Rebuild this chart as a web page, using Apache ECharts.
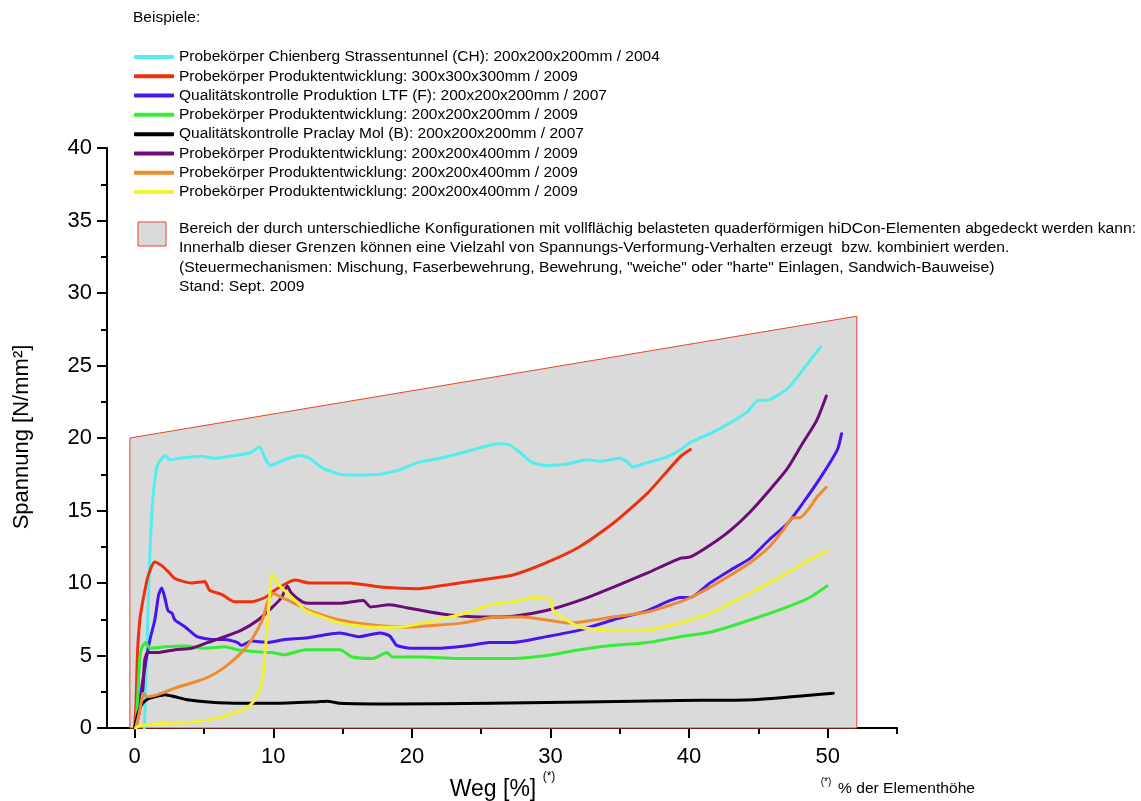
<!DOCTYPE html>
<html>
<head>
<meta charset="utf-8">
<script src="https://cdn.jsdelivr.net/npm/echarts@6/dist/echarts.min.js"></script>
<style>
  html, body { margin: 0; padding: 0; background: #fff; }
  #chart { width: 1141px; height: 801px; }
</style>
</head>
<body>
<div id="chart"></div>
<script>
// ---- series labels and colours ----
const seriesLabels = [
  'Probekörper Chienberg Strassentunnel (CH): 200x200x200mm / 2004',
  'Probekörper Produktentwicklung: 300x300x300mm / 2009',
  'Qualitätskontrolle Produktion LTF (F): 200x200x200mm / 2007',
  'Probekörper Produktentwicklung: 200x200x200mm / 2009',
  'Qualitätskontrolle Praclay Mol (B): 200x200x200mm / 2007',
  'Probekörper Produktentwicklung: 200x200x400mm / 2009',
  'Probekörper Produktentwicklung: 200x200x400mm / 2009',
  'Probekörper Produktentwicklung: 200x200x400mm / 2009'
];
const seriesColors = ['#52eeee', '#ef300e', '#4814f0', '#36ec36', '#000000', '#6c0c76', '#ef8a2e', '#f2f232'];

// ---- stress–strain curves: [Weg %, Spannung N/mm²] ----
const chienberg = [
  [0.7,0],[0.94,7.4],[1.08,11.6],[1.3,15.7],[1.6,18.0],[1.95,18.6],[2.2,18.8],[2.5,18.5],[3.2,18.6],
  [4.7,18.75],[5.8,18.6],[6.9,18.75],[8.4,19.0],[9.0,19.4],[9.4,18.6],[9.8,18.1],[10.8,18.5],[11.9,18.8],
  [12.6,18.6],[13.6,17.9],[14.8,17.5],[16.0,17.45],[17.7,17.5],[19.1,17.8],[20.4,18.3],[22.0,18.6],
  [23.7,19.0],[25.6,19.5],[26.4,19.6],[27.1,19.5],[27.8,19.0],[28.7,18.3],[29.7,18.1],[31.2,18.2],
  [32.6,18.5],[33.6,18.4],[35.0,18.6],[35.6,18.3],[35.9,18.0],[37.0,18.3],[38.4,18.7],[39.4,19.2],
  [40.1,19.7],[41.5,20.3],[42.7,20.9],[44.2,21.8],[45.0,22.6],[45.6,22.6],[47.1,23.4],[48.2,24.7],[49.5,26.3]
];
const dev300 = [
  [0,0],[0.1,1.9],[0.2,5.2],[0.36,7.4],[0.5,8.3],[0.94,10.4],[1.44,11.45],[1.95,11.2],[2.4,10.8],
  [2.9,10.3],[4.1,10.0],[5.05,10.1],[5.4,9.5],[6.3,9.2],[7.2,8.7],[8.4,8.7],[9.4,9.0],[10.1,9.5],
  [11.0,10.0],[11.55,10.2],[12.6,10.0],[15.5,10.0],[17.9,9.7],[20.4,9.6],[22.7,9.9],[25.6,10.3],
  [27.3,10.55],[29.7,11.4],[32.1,12.5],[34.5,14.1],[37.0,16.2],[39.35,18.7],[40.1,19.2]
];
const ltf = [
  [0.07,0],[0.36,1.9],[0.7,4.0],[1.1,6.1],[1.45,7.45],[1.73,9.2],[1.95,9.65],[2.17,9.0],[2.4,8.1],
  [2.7,7.9],[2.9,7.45],[3.6,7.0],[4.5,6.3],[5.6,6.1],[6.5,6.1],[7.4,5.9],[7.7,5.7],[8.45,6.0],
  [9.6,5.9],[10.8,6.1],[12.3,6.2],[14.8,6.55],[16.2,6.3],[17.7,6.55],[18.4,6.35],[18.9,5.7],
  [19.9,5.5],[22.0,5.5],[24.2,5.7],[25.6,5.9],[27.3,5.9],[29.7,6.3],[32.1,6.75],[34.5,7.45],
  [37.0,8.1],[39.35,9.0],[40.1,9.0],[41.5,10.0],[43.0,10.9],[44.4,11.7],[45.8,13.0],[47.1,14.1],
  [48.2,15.5],[49.5,17.3],[50.7,19.2],[51.0,20.3]
];
const dev200 = [
  [0.07,0],[0.2,1.9],[0.36,4.7],[0.5,5.5],[0.8,5.9],[1.1,5.5],[2.2,5.6],[3.6,5.65],[5.05,5.5],
  [6.5,5.6],[7.4,5.4],[8.9,5.25],[9.9,5.2],[10.8,5.05],[12.3,5.4],[14.8,5.4],[15.7,4.9],[17.2,4.8],
  [18.2,5.2],[18.6,4.9],[20.8,4.9],[23.2,4.8],[25.6,4.8],[27.3,4.8],[29.7,5.0],[32.1,5.4],[34.5,5.7],
  [37.0,5.9],[39.35,6.3],[41.5,6.6],[44.4,7.45],[47.1,8.35],[48.7,9.0],[49.95,9.8]
];
const praclay = [
  [0,0],[0.2,0.9],[0.5,1.6],[0.94,2.0],[1.45,2.15],[2.2,2.3],[2.9,2.15],[3.8,1.95],[5.3,1.8],
  [7.7,1.7],[10.1,1.7],[13.1,1.8],[13.9,1.85],[14.8,1.7],[18.4,1.65],[25.6,1.7],[39.35,1.9],
  [44.6,1.95],[50.4,2.4]
];
const dev400a = [
  [0.07,0],[0.36,1.2],[0.6,2.8],[0.72,4.7],[0.94,5.2],[1.66,5.2],[2.9,5.4],[4.1,5.5],[5.3,5.9],
  [6.5,6.3],[7.7,6.75],[8.9,7.45],[9.9,8.3],[10.6,9.0],[11.0,9.8],[11.3,9.3],[12.1,8.7],[12.6,8.6],
  [14.8,8.6],[16.5,8.8],[17.0,8.35],[18.4,8.5],[19.6,8.3],[21.3,8.0],[22.7,7.8],[25.6,7.65],
  [27.3,7.7],[29.7,8.1],[32.1,8.8],[34.5,9.7],[37.0,10.7],[39.35,11.7],[40.1,11.8],[41.5,12.6],
  [43.0,13.65],[44.4,14.9],[45.8,16.4],[47.1,17.9],[48.2,19.65],[49.2,21.2],[49.9,22.9]
];
const dev400b = [
  [0.07,0],[0.3,0.9],[0.5,1.9],[0.6,2.4],[0.87,2.15],[1.66,2.3],[2.9,2.75],[4.1,3.1],[5.3,3.5],
  [6.5,4.2],[7.7,5.2],[8.45,6.1],[9.2,7.45],[9.6,8.7],[10.0,9.3],[10.6,9.0],[11.3,8.7],[12.6,8.1],
  [14.8,7.45],[17.2,7.1],[19.6,6.95],[22.0,7.1],[23.7,7.25],[25.6,7.6],[26.4,7.65],[28.0,7.65],
  [29.7,7.45],[31.2,7.25],[32.1,7.3],[34.5,7.65],[37.0,8.0],[39.35,8.7],[40.1,9.0],[41.5,9.7],
  [43.0,10.55],[44.4,11.4],[45.8,12.5],[46.8,13.65],[47.5,14.5],[48.0,14.5],[48.7,15.2],[49.2,15.9],[49.9,16.6]
];
const dev400c = [
  [0.07,0],[0.36,0.15],[1.66,0.3],[4.1,0.4],[6.0,0.7],[7.2,1.05],[8.2,1.45],[8.8,2.15],[9.2,3.3],
  [9.4,5.2],[9.6,7.45],[9.75,9.3],[9.9,10.6],[10.3,10.0],[11.0,9.3],[11.8,8.6],[12.3,8.1],[13.1,7.8],
  [14.8,7.25],[17.2,6.95],[19.1,6.95],[20.8,7.25],[22.5,7.6],[24.2,8.0],[25.6,8.5],[26.4,8.6],
  [27.8,8.8],[28.7,9.0],[29.7,8.95],[30.0,8.95],[30.2,8.1],[31.2,7.45],[32.1,6.95],[34.5,6.75],
  [37.0,6.75],[39.35,7.25],[41.5,7.9],[44.4,9.3],[47.1,10.7],[48.7,11.6],[49.95,12.2]
];
const curves = [chienberg, dev300, ltf, dev200, praclay, dev400a, dev400b, dev400c];

// ---- envelope of achievable configurations ----
const regionX = [-0.35, -0.35, 52.1, 52.1];
const regionY = [0, 20, 28.4, 0];

// ---- axes ----
const xMin = -2, xMax = 55;
const xMajorTicks = [0, 10, 20, 30, 40, 50];
const xMinorTicks = [5, 15, 25, 35, 45, 55];
const yMin = 0, yMax = 40, yStep = 5;

const noteLines = [
  'Bereich der durch unterschiedliche Konfigurationen mit vollflächig belasteten quaderförmigen hiDCon-Elementen abgedeckt werden kann:',
  'Innerhalb dieser Grenzen können eine Vielzahl von Spannungs-Verformung-Verhalten erzeugt  bzw. kombiniert werden.',
  '(Steuermechanismen: Mischung, Faserbewehrung, Bewehrung, "weiche" oder "harte" Einlagen, Sandwich-Bauweise)',
  'Stand: Sept. 2009'
];

const FONT = '"Liberation Sans", Arial, Helvetica, sans-serif';
const chart = echarts.init(document.getElementById('chart'), null, { renderer: 'canvas' });

// the note block uses a condensed setting: squeeze it to the block width
const measureCtx = document.createElement('canvas').getContext('2d');
function textWidth(str, size) {
  measureCtx.font = size + 'px ' + FONT;
  return measureCtx.measureText(str).width;
}
const noteSize = 15.5;
const noteScale = 957 / textWidth(noteLines[0], noteSize);

const seriesIds = curves.map((_, i) => 'curve' + i);

const graphics = [
  { type: 'text', x: 133, y: 18, style: { text: 'Beispiele:', font: '15.5px ' + FONT, fill: '#000', verticalAlign: 'middle' } },
  { type: 'rect', shape: { x: 138, y: 222, width: 28, height: 24 },
    style: { fill: '#dadada', stroke: '#e8442c', lineWidth: 1 } },
  // axis titles
  { type: 'text', x: 22, y: 437, rotation: Math.PI / 2,
    style: { text: 'Spannung [N/mm²]', font: '22px ' + FONT, fill: '#000', align: 'center', verticalAlign: 'middle' } },
  { type: 'text', x: 493, y: 790,
    style: { text: 'Weg [%]', font: '23px ' + FONT, fill: '#000', align: 'center', verticalAlign: 'middle' } },
  { type: 'text', x: 549, y: 777,
    style: { text: '(*)', font: '12px ' + FONT, fill: '#000', align: 'center', verticalAlign: 'middle' } },
  { type: 'text', x: 826, y: 782,
    style: { text: '(*)', font: '10px ' + FONT, fill: '#000', align: 'center', verticalAlign: 'middle' } },
  { type: 'text', x: 838, y: 789, scaleX: 137 / textWidth('% der Elementhöhe', 15),
    style: { text: '% der Elementhöhe', font: '15px ' + FONT, fill: '#000', align: 'left', verticalAlign: 'middle' } }
];
const noteY = [229, 248, 268, 287];
noteLines.forEach((line, i) => {
  graphics.push({ type: 'text', x: 179, y: noteY[i], scaleX: noteScale,
    style: { text: line, font: noteSize + 'px ' + FONT, fill: '#000', align: 'left', verticalAlign: 'middle' } });
});

const lineSeries = curves.map((pts, i) => ({
  id: seriesIds[i],
  name: seriesIds[i],
  type: 'line',
  data: pts,
  showSymbol: false,
  symbol: 'none',
  smooth: 0.2,
  color: seriesColors[i],
  lineStyle: { width: 3, color: seriesColors[i], cap: 'round', join: 'round' },
  z: 3,
  silent: true
}));

const option = {
  animation: false,
  backgroundColor: '#ffffff',
  textStyle: { fontFamily: FONT },
  grid: { left: 107, right: 244, top: 148, bottom: 73, containLabel: false },
  legend: {
    data: seriesIds,
    formatter: name => seriesLabels[seriesIds.indexOf(name)],
    orient: 'vertical',
    left: 134,
    top: 47.3,
    padding: 0,
    itemGap: 0,
    itemWidth: 40,
    itemHeight: 4,
    icon: 'roundRect',
    selectedMode: false,
    textStyle: { fontSize: 15.5, color: '#000', fontFamily: FONT, lineHeight: 19.3 }
  },
  xAxis: [
    {
      type: 'value', min: xMin, max: xMax, position: 'bottom',
      axisLine: { show: true, onZero: false, lineStyle: { color: '#000', width: 2 } },
      axisTick: { show: true, customValues: xMajorTicks, length: 10, lineStyle: { color: '#000', width: 2 } },
      axisLabel: { show: true, customValues: xMajorTicks, fontSize: 22, color: '#000', margin: 18, fontFamily: FONT },
      splitLine: { show: false }
    },
    {
      type: 'value', min: xMin, max: xMax, position: 'bottom',
      axisLine: { show: false, onZero: false },
      axisTick: { show: true, customValues: xMinorTicks, length: 6, lineStyle: { color: '#000', width: 2 } },
      axisLabel: { show: false },
      splitLine: { show: false }
    }
  ],
  yAxis: {
    type: 'value', min: yMin, max: yMax, interval: yStep,
    axisLine: { show: true, onZero: false, lineStyle: { color: '#000', width: 2 } },
    axisTick: { show: true, length: 10, lineStyle: { color: '#000', width: 2 } },
    minorTick: { show: true, splitNumber: 2, length: 6, lineStyle: { color: '#000', width: 2 } },
    axisLabel: { fontSize: 22, color: '#000', margin: 15, fontFamily: FONT },
    splitLine: { show: false },
    minorSplitLine: { show: false }
  },
  graphic: graphics,
  series: [
    {
      type: 'custom',
      name: 'envelope',
      silent: true,
      clip: false,
      z: 1,
      data: regionX.map((x, i) => [x, regionY[i]]),
      encode: { x: 0, y: 1 },
      renderItem: (params, api) => {
        if (params.dataIndex !== 0) return;
        const pts = regionX.map((x, i) => api.coord([x, regionY[i]]));
        return {
          type: 'polygon',
          shape: { points: pts },
          style: { fill: '#dadada', stroke: '#e8442c', lineWidth: 1 }
        };
      }
    },
    ...lineSeries
  ]
};

chart.setOption(option);
</script>
</body>
</html>
